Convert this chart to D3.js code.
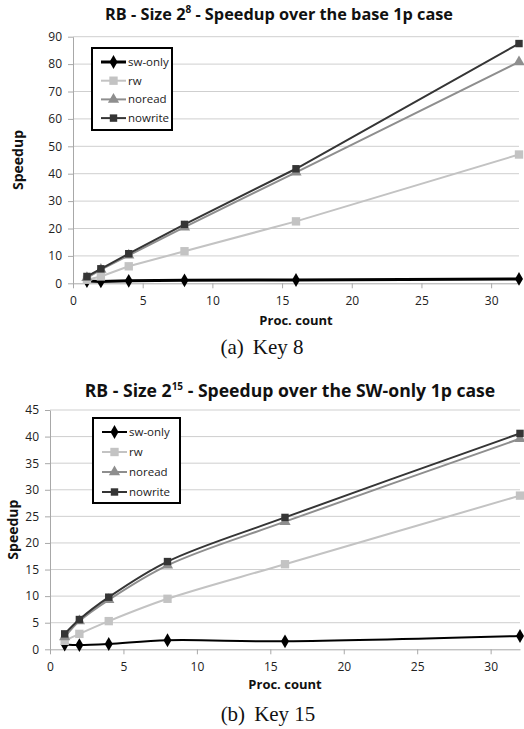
<!DOCTYPE html>
<html>
<head>
<meta charset="utf-8">
<script src="https://cdn.jsdelivr.net/npm/d3@7"></script>
<style>
  body { margin: 0; background: #fff; }
  svg { display: block; }
</style>
</head>
<body>
<div id="results"></div>
<script>
const procCounts = [1, 2, 4, 8, 16, 32];
const seriesNames = ["sw-only", "rw", "noread", "nowrite"];

// Key 8 (chart a)
const key8SwOnly = [0.8, 0.7, 0.9, 1.1, 1.2, 1.6];
const key8Rw = [1.3, 2.5, 6.2, 11.7, 22.6, 47];
const key8Noread = [2.0, 5.0, 10.2, 20.5, 40.5, 80.8];
const key8Nowrite = [2.5, 5.3, 10.8, 21.5, 41.8, 87.5];
const key8YTicks = [0, 10, 20, 30, 40, 50, 60, 70, 80, 90];

// Key 15 (chart b)
const key15SwOnly = [0.9, 0.8, 1.0, 1.7, 1.5, 2.5];
const key15Rw = [1.6, 2.9, 5.3, 9.5, 16.0, 28.9];
const key15Noread = [2.3, 5.3, 9.3, 15.8, 24.0, 39.6];
const key15Nowrite = [2.9, 5.6, 9.8, 16.5, 24.8, 40.6];
const key15YTicks = [0, 5, 10, 15, 20, 25, 30, 35, 40, 45];

const xTicks = [0, 5, 10, 15, 20, 25, 30];

const colors = { "sw-only": "#000000", "rw": "#c3c3c3", "noread": "#8e8e8e", "nowrite": "#353535" };
const symbols = { "sw-only": d3.symbolDiamond, "rw": d3.symbolSquare, "noread": d3.symbolTriangle, "nowrite": d3.symbolSquare };
const symSize = { "sw-only": 55, "rw": 70, "noread": 55, "nowrite": 55 };

const svg = d3.select("#results")
  .append("svg")
  .attr("width", 524)
  .attr("height", 729);

function drawChart(c) {
  const g = svg.append("g");

  const x = d3.scaleLinear().domain([0, 32]).range([c.left, c.right]);
  const y = d3.scaleLinear().domain([0, c.yMax]).range([c.bottom, c.top]);

  // gridlines
  g.append("g")
    .selectAll("line")
    .data(c.yTicks.slice(1))
    .join("line")
    .attr("x1", c.left).attr("x2", c.right)
    .attr("y1", d => y(d)).attr("y2", d => y(d))
    .attr("stroke", "#cfcfcf").attr("stroke-width", 1);

  const yAxis = g.append("g")
    .attr("transform", `translate(${c.left},0)`)
    .call(d3.axisLeft(y).tickValues(c.yTicks).tickSize(5).tickSizeOuter(0).tickPadding(6));
  const xAxis = g.append("g")
    .attr("transform", `translate(0,${c.bottom})`)
    .call(d3.axisBottom(x).tickValues(xTicks).tickSize(5).tickSizeOuter(0).tickPadding(8));
  [yAxis, xAxis].forEach(a => {
    a.select(".domain").attr("stroke", "#a8a8a8");
    a.selectAll(".tick line").attr("stroke", "#a8a8a8");
    a.selectAll(".tick text").attr("fill", "#222").style("font-family", "Open Sans, sans-serif").style("font-size", "12px");
  });

  const line = d3.line()
    .x((d, i) => x(procCounts[i]))
    .y(d => y(d))
    .curve(c.curve);

  seriesNames.forEach((name, k) => {
    const vals = c.series[k];
    g.append("path")
      .datum(vals)
      .attr("fill", "none")
      .attr("stroke", colors[name])
      .attr("stroke-width", name === "sw-only" ? c.swWidth : 2)
      .attr("d", line);
    g.append("g")
      .selectAll("path")
      .data(vals)
      .join("path")
      .attr("transform", (d, i) => `translate(${x(procCounts[i])},${y(d)})`)
      .attr("d", d3.symbol().type(symbols[name]).size(symSize[name]))
      .attr("fill", colors[name]);
  });

  // legend
  const lg = g.append("g");
  lg.append("rect")
    .attr("x", c.legend.x).attr("y", c.legend.y)
    .attr("width", c.legend.w).attr("height", c.legend.h)
    .attr("fill", "#fff").attr("stroke", "#000").attr("stroke-width", 2);
  seriesNames.forEach((name, k) => {
    const ly = c.legend.y + 14 + k * c.legend.step;
    const lx = c.legend.x + 9;
    lg.append("line")
      .attr("x1", lx).attr("x2", lx + 25)
      .attr("y1", ly).attr("y2", ly)
      .attr("stroke", colors[name])
      .attr("stroke-width", name === "sw-only" ? c.swWidth : 2);
    lg.append("path")
      .attr("transform", `translate(${lx + 12.5},${ly})`)
      .attr("d", d3.symbol().type(symbols[name]).size(symSize[name]))
      .attr("fill", colors[name]);
    lg.append("text")
      .attr("x", lx + 27).attr("y", ly)
      .attr("dy", "0.35em")
      .style("font-family", "Open Sans, sans-serif")
      .style("font-size", "11.5px")
      .attr("fill", "#222")
      .text(name);
  });

  // title with superscript
  const t = g.append("text")
    .attr("x", 262 + c.titleShift).attr("y", c.titleY)
    .attr("text-anchor", "middle")
    .style("font-family", "Open Sans, sans-serif")
    .style("font-weight", "bold")
    .style("font-size", c.titleSize + "px")
    .attr("fill", "#111");
  t.append("tspan").text(c.title[0]);
  t.append("tspan").attr("dy", -7).style("font-size", "10px").text(c.title[1]);
  t.append("tspan").attr("dy", 7).text(c.title[2]);

  g.append("text")
    .attr("transform", `translate(${c.yLabelX},${(c.top + c.bottom) / 2}) rotate(-90)`)
    .attr("text-anchor", "middle")
    .style("font-family", "Open Sans, sans-serif")
    .style("font-weight", "bold")
    .style("font-size", "14px")
    .attr("fill", "#111")
    .text("Speedup");

  g.append("text")
    .attr("x", (c.left + c.right) / 2).attr("y", c.xLabelY)
    .attr("text-anchor", "middle")
    .style("font-family", "Open Sans, sans-serif")
    .style("font-weight", "bold")
    .style("font-size", "13px")
    .attr("fill", "#111")
    .text("Proc. count");

  const cap = g.append("text")
    .attr("x", c.captionX).attr("y", c.captionY)
    .attr("text-anchor", "middle")
    .style("font-family", "Liberation Serif, serif")
    .style("font-size", "21px")
    .attr("fill", "#111");
  cap.append("tspan").text(c.caption[0]);
  cap.append("tspan").attr("dx", 9).text(c.caption[1]);
}

drawChart({
  left: 73, right: 519, top: 36.7, bottom: 283.3, yMax: 90, yTicks: key8YTicks,
  series: [key8SwOnly, key8Rw, key8Noread, key8Nowrite],
  curve: d3.curveLinear, swWidth: 3,
  legend: { x: 92, y: 48, w: 80, h: 82, step: 18.7 },
  title: ["RB - Size 2", "8", " - Speedup over the base 1p case"], titleY: 20, titleShift: 17, titleSize: 16.3,
  yLabelX: 23, xLabelY: 325, caption: ["(a)", "Key 8"], captionX: 262, captionY: 354
});

drawChart({
  left: 50, right: 520, top: 410, bottom: 649.3, yMax: 45, yTicks: key15YTicks,
  series: [key15SwOnly, key15Rw, key15Noread, key15Nowrite],
  curve: d3.curveCatmullRom.alpha(0.5), swWidth: 2,
  legend: { x: 93, y: 418, w: 87, h: 85, step: 20 },
  title: ["RB - Size 2", "15", " - Speedup over the SW-only 1p case"], titleY: 397, titleShift: 28, titleSize: 17.6,
  yLabelX: 18, xLabelY: 689, caption: ["(b)", "Key 15"], captionX: 268, captionY: 721
});
</script>
</body>
</html>
